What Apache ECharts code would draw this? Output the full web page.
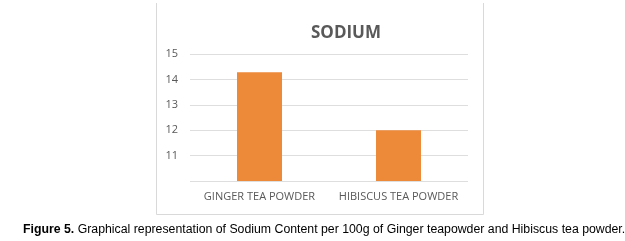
<!DOCTYPE html>
<html><head><meta charset="utf-8">
<script src="https://cdn.jsdelivr.net/npm/echarts@6/dist/echarts.min.js"></script>
<style>html,body{margin:0;padding:0;background:#fff}#c{width:625px;height:241px}</style>
</head><body><div id="c"></div>
<script>
const categories = ["GINGER TEA POWDER", "HIBISCUS TEA POWDER"];
const sodium = [14.28, 12.0];
const yTicks = [10, 11, 12, 13, 14, 15];
const titleText = "SODIUM";
const captionBold = "Figure 5.";
const captionText = " Graphical representation of Sodium Content per 100g of Ginger teapowder and Hibiscus tea powder.";

const chart = echarts.init(document.getElementById('c'), null, {renderer: 'canvas'});
chart.setOption({
  animation: false,
  backgroundColor: '#fff',
  title: {
    text: titleText, left: 341, top: 20, textAlign: 'center',
    textStyle: {fontFamily: 'Open Sans', fontWeight: 'bold', fontSize: 17, color: '#595959'}
  },
  grid: {left: 190, right: 625 - 468, top: 54, bottom: 241 - 181, containLabel: false},
  xAxis: {
    type: 'category', data: categories,
    axisLine: {show: false}, axisTick: {show: false},
    axisLabel: {fontFamily: 'Open Sans', fontSize: 11, color: '#595959', margin: 10, interval: 0}
  },
  yAxis: {
    type: 'value', min: yTicks[0], max: yTicks[yTicks.length - 1], interval: 1,
    axisLine: {show: false}, axisTick: {show: false},
    splitLine: {lineStyle: {color: '#dedede', width: 1}},
    axisLabel: {fontFamily: 'Open Sans', fontSize: 11, color: '#595959', margin: 12,
      formatter: v => (v === yTicks[0] ? '' : String(v))}
  },
  series: [{
    type: 'bar', data: sodium, barWidth: 45,
    itemStyle: {color: '#ed8a3a'}
  }],
  graphic: [
    {type: 'polyline', shape: {points: [[156.5, 3], [156.5, 214.5], [483.5, 214.5], [483.5, 3]]},
     style: {stroke: '#d9d9d9', fill: null, lineWidth: 1}, silent: true},
    {type: 'text', left: 23, top: 224,
     style: {rich: {b: {fontFamily: 'Liberation Sans', fontWeight: 'bold', fontSize: 12.3, fill: '#000'},
                    r: {fontFamily: 'Liberation Sans', fontSize: 12.3, fill: '#000'}},
             text: '{b|' + captionBold + '}{r|' + captionText + '}'}}
  ]
});
</script></body></html>
